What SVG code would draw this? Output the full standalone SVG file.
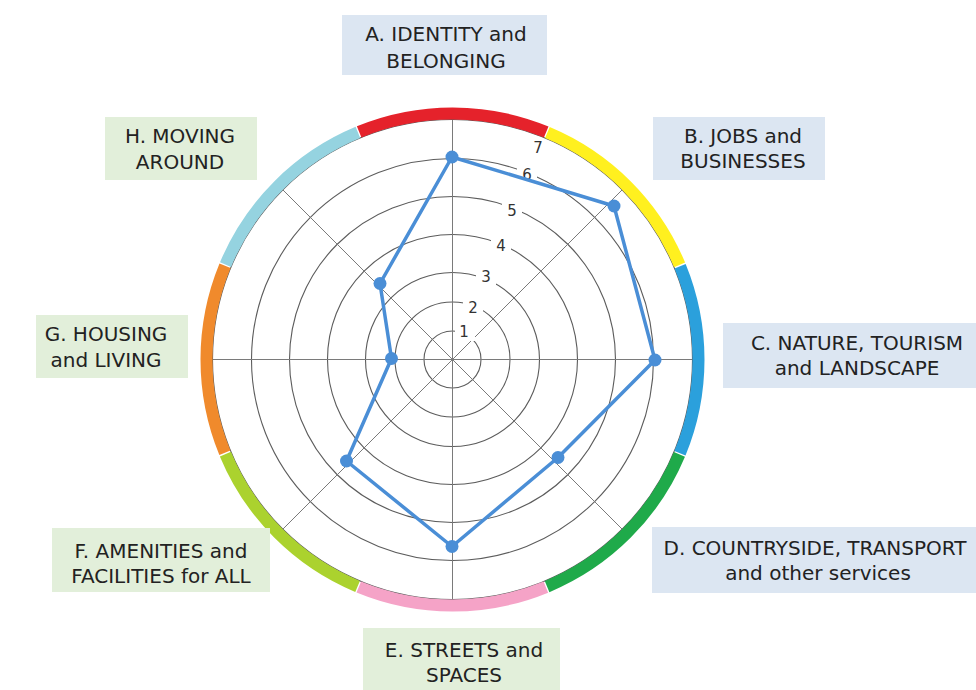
<svg xmlns="http://www.w3.org/2000/svg" width="976" height="690" viewBox="0 0 976 690">
<style>
.ring{fill:none;stroke:#5c5c5c;stroke-width:1.1}
.spoke{stroke:#7a7a7a;stroke-width:1}
.seg{fill:none;stroke-width:12;stroke-dasharray:191.8 1353.9}
.tick{font-family:"DejaVu Sans",sans-serif;font-size:15px;fill:#333;text-anchor:middle}
.tbg{fill:#fff}
.lbl{font-family:"DejaVu Sans","Liberation Sans",sans-serif;font-size:20px;fill:#222;text-anchor:middle}
.boxb{fill:#dce6f2}
.boxg{fill:#e2efda}
.poly{fill:none;stroke:#4a8ed6;stroke-width:3.5;stroke-linejoin:round}
.pt{fill:#4a8ed6}
</style>
<rect width="976" height="690" fill="#fff"/>
<g id="grid">
<circle class="ring" cx="452.5" cy="359.5" r="28.5"/>
<circle class="ring" cx="452.5" cy="359.5" r="57.5"/>
<circle class="ring" cx="452.5" cy="359.5" r="87"/>
<circle class="ring" cx="452.5" cy="359.5" r="125"/>
<circle class="ring" cx="452.5" cy="359.5" r="163"/>
<circle class="ring" cx="452.5" cy="359.5" r="201"/>
<line class="spoke" x1="452.5" y1="119.5" x2="452.5" y2="599.5"/>
<line class="spoke" x1="212.5" y1="359.5" x2="692.5" y2="359.5"/>
<line class="spoke" x1="282.8" y1="189.8" x2="622.2" y2="529.2"/>
<line class="spoke" x1="622.2" y1="189.8" x2="282.8" y2="529.2"/>
<circle class="ring" cx="452.5" cy="359.5" r="240"/>
</g>
<g id="band">
<circle class="seg" cx="452.5" cy="359.5" r="246" stroke="#e5222b" transform="rotate(-112.3 452.5 359.5)"/>
<circle class="seg" cx="452.5" cy="359.5" r="246" stroke="#fff01f" transform="rotate(-67.3 452.5 359.5)"/>
<circle class="seg" cx="452.5" cy="359.5" r="246" stroke="#2ba0dc" transform="rotate(-22.3 452.5 359.5)"/>
<circle class="seg" cx="452.5" cy="359.5" r="246" stroke="#1faa4a" transform="rotate(22.7 452.5 359.5)"/>
<circle class="seg" cx="452.5" cy="359.5" r="246" stroke="#f5a3c7" transform="rotate(67.7 452.5 359.5)"/>
<circle class="seg" cx="452.5" cy="359.5" r="246" stroke="#abd22e" transform="rotate(112.7 452.5 359.5)"/>
<circle class="seg" cx="452.5" cy="359.5" r="246" stroke="#f08a2c" transform="rotate(157.7 452.5 359.5)"/>
<circle class="seg" cx="452.5" cy="359.5" r="246" stroke="#95d3e0" transform="rotate(202.7 452.5 359.5)"/>
</g>
<g id="scale">
<rect class="tbg" x="455" y="321" width="20" height="20"/>
<text class="tick" x="464" y="336.5">1</text>
<rect class="tbg" x="463" y="297" width="20" height="20"/>
<text class="tick" x="473" y="312.5">2</text>
<rect class="tbg" x="476" y="266" width="20" height="20"/>
<text class="tick" x="486" y="281.5">3</text>
<rect class="tbg" x="491" y="235" width="20" height="20"/>
<text class="tick" x="501" y="250.5">4</text>
<rect class="tbg" x="502" y="200" width="20" height="20"/>
<text class="tick" x="512" y="215.5">5</text>
<rect class="tbg" x="517" y="164" width="20" height="20"/>
<text class="tick" x="527" y="179.5">6</text>
<text class="tick" x="538" y="152.5">7</text>
</g>
<g id="series">
<polygon class="poly" points="452,157 614,206 655,360 558,457.5 452,546.5 346.5,461 391.5,358.5 380,283.5"/>
<circle class="pt" cx="452" cy="157" r="6.5"/>
<circle class="pt" cx="614" cy="206" r="6.5"/>
<circle class="pt" cx="655" cy="360" r="6.5"/>
<circle class="pt" cx="558" cy="457.5" r="6.5"/>
<circle class="pt" cx="452" cy="546.5" r="6.5"/>
<circle class="pt" cx="346.5" cy="461" r="6.5"/>
<circle class="pt" cx="391.5" cy="358.5" r="6.5"/>
<circle class="pt" cx="380" cy="283.5" r="6.5"/>
</g>
<g id="nodeA"><rect class="boxb" x="342" y="15" width="205" height="60"/><text class="lbl" x="446" y="41">A. IDENTITY and</text><text class="lbl" x="446" y="68">BELONGING</text></g>
<g id="nodeB"><rect class="boxb" x="653" y="117" width="172" height="63"/><text class="lbl" x="743" y="143">B. JOBS and</text><text class="lbl" x="743" y="168">BUSINESSES</text></g>
<g id="nodeC"><rect class="boxb" x="723" y="323" width="253" height="65"/><text class="lbl" x="857" y="350">C. NATURE, TOURISM</text><text class="lbl" x="857" y="375">and LANDSCAPE</text></g>
<g id="nodeD"><rect class="boxb" x="652" y="527" width="324" height="66"/><text class="lbl" x="815" y="555">D. COUNTRYSIDE, TRANSPORT</text><text class="lbl" x="818" y="580">and other services</text></g>
<g id="nodeE"><rect class="boxg" x="363" y="628" width="197" height="62"/><text class="lbl" x="464" y="657">E. STREETS and</text><text class="lbl" x="464" y="682">SPACES</text></g>
<g id="nodeF"><rect class="boxg" x="52" y="528" width="218" height="64"/><text class="lbl" x="161" y="558">F. AMENITIES and</text><text class="lbl" x="161" y="583">FACILITIES for ALL</text></g>
<g id="nodeG"><rect class="boxg" x="36" y="315" width="152" height="63"/><text class="lbl" x="106" y="341">G. HOUSING</text><text class="lbl" x="106" y="367">and LIVING</text></g>
<g id="nodeH"><rect class="boxg" x="105" y="117" width="152" height="63"/><text class="lbl" x="180" y="143">H. MOVING</text><text class="lbl" x="180" y="169">AROUND</text></g>
</svg>
